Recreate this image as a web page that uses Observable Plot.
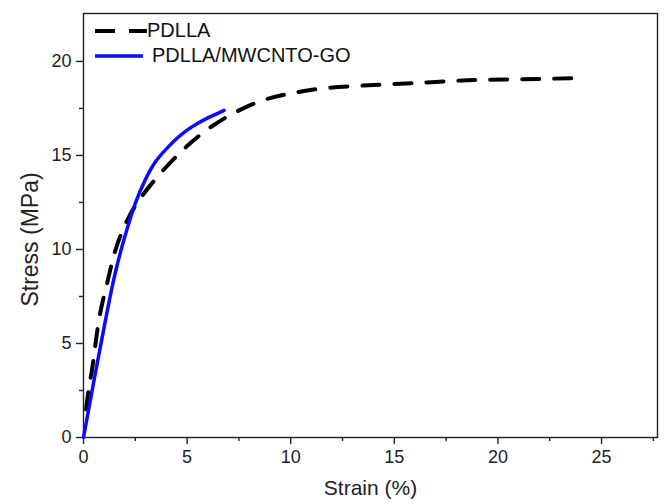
<!DOCTYPE html>
<html>
<head>
<meta charset="utf-8">
<script src="https://cdn.jsdelivr.net/npm/d3@7"></script>
<script src="https://cdn.jsdelivr.net/npm/@observablehq/plot@0.6"></script>
<style>
  html, body { margin: 0; padding: 0; background: #fff; }
  #wrap { position: relative; width: 665px; height: 504px; font-family: "Liberation Sans", Arial, sans-serif; }
  #legend { position: absolute; left: 93px; top: 18px; font-size: 20px; color: #111; }
  .row { display: flex; align-items: center; height: 25px; }
  .row svg { display: block; }
</style>
</head>
<body>
<div id="wrap">
  <div id="chart"></div>
  <div id="legend"></div>
</div>
<script>
// PDLLA (dashed black)
const pdllaStrain = [0.12, 0.3, 0.45, 0.77, 1.14, 1.55, 2.2, 3.0, 4.0, 5.0, 6.0, 7.0, 8.0, 9.0, 10.0, 11.4, 13.2, 15.0, 16.8, 18.5, 20.2, 22.0, 24.0];
const pdllaStress = [1.5, 2.9, 3.9, 6.4, 8.2, 10.0, 11.75, 13.1, 14.4, 15.5, 16.4, 17.1, 17.65, 18.05, 18.3, 18.55, 18.7, 18.8, 18.9, 19.0, 19.04, 19.07, 19.12];
// PDLLA/MWCNTO-GO (solid blue)
const compStrain = [0, 0.5, 1.0, 1.5, 2.0, 2.5, 3.0, 3.5, 4.0, 4.5, 5.0, 5.5, 6.0, 6.4, 6.78];
const compStress = [0, 3.0, 5.9, 8.6, 10.7, 12.45, 13.75, 14.7, 15.35, 15.9, 16.35, 16.7, 17.0, 17.2, 17.4];
const seriesNames = ["PDLLA", "PDLLA/MWCNTO-GO"];
const xMajor = [0, 5, 10, 15, 20, 25];
const xMinor = [2.5, 7.5, 12.5, 17.5, 22.5, 27.5];
const yMajor = [0, 5, 10, 15, 20];
const yMinor = [2.5, 7.5, 12.5, 17.5];
const xTitle = "Strain (%)";
const yTitle = "Stress (MPa)";

const pdlla = pdllaStrain.map((x, i) => ({x, y: pdllaStress[i]}));
const comp = compStrain.map((x, i) => ({x, y: compStress[i]}));

const dash = "17,15";
const blue = "#0a0aff";

const chart = Plot.plot({
  width: 665,
  height: 504,
  marginLeft: 83,
  marginRight: 8,
  marginTop: 13,
  marginBottom: 67,
  style: {fontFamily: "Liberation Sans, Arial, sans-serif", fontSize: "18px", color: "#222", background: "#fff"},
  x: {domain: [0, 27.7]},
  y: {domain: [0, 22.55]},
  marks: [
    Plot.axisX(xMajor, {tickSize: 7, tickPadding: 6, fontSize: 18, label: null, stroke: "#222", strokeWidth: 1.4}),
    Plot.axisX(xMinor, {tickSize: 4, tickFormat: () => "", label: null, stroke: "#222", strokeWidth: 1.4}),
    Plot.axisY(yMajor, {tickSize: 7, tickPadding: 5, fontSize: 18, label: null, stroke: "#222", strokeWidth: 1.4}),
    Plot.axisY(yMinor, {tickSize: 4, tickFormat: () => "", label: null, stroke: "#222", strokeWidth: 1.4}),
    Plot.frame({stroke: "#222", strokeWidth: 1.4}),
    Plot.line(pdlla, {x: "x", y: "y", stroke: "#000", strokeWidth: 4, strokeDasharray: dash, curve: "natural"}),
    Plot.line(comp, {x: "x", y: "y", stroke: blue, strokeWidth: 3.5, curve: "natural"}),
    Plot.text([xTitle], {frameAnchor: "bottom", dy: 57, fontSize: 21, fill: "#222", text: d => d}),
    Plot.text([yTitle], {frameAnchor: "left", dx: -53, dy: 14, rotate: -90, textAnchor: "middle", fontSize: 23, fill: "#222", text: d => d})
  ]
});
document.getElementById("chart").appendChild(chart);

// legend
const legend = document.getElementById("legend");
const styles = [
  {stroke: "#000", width: 4, dash: "20,14", w: 54, gap: 0},
  {stroke: blue, width: 3.5, dash: null, w: 50, gap: 9}
];
seriesNames.forEach((name, i) => {
  const s = styles[i];
  const row = document.createElement("div");
  row.className = "row";
  const svg = d3.create("svg").attr("width", s.w).attr("height", 10);
  svg.append("line").attr("x1", 2).attr("x2", s.w).attr("y1", 5).attr("y2", 5)
    .attr("stroke", s.stroke).attr("stroke-width", s.width)
    .attr("stroke-dasharray", s.dash);
  row.appendChild(svg.node());
  const span = document.createElement("span");
  span.textContent = name;
  span.style.marginLeft = s.gap + "px";
  row.appendChild(span);
  legend.appendChild(row);
});
</script>
</body>
</html>
